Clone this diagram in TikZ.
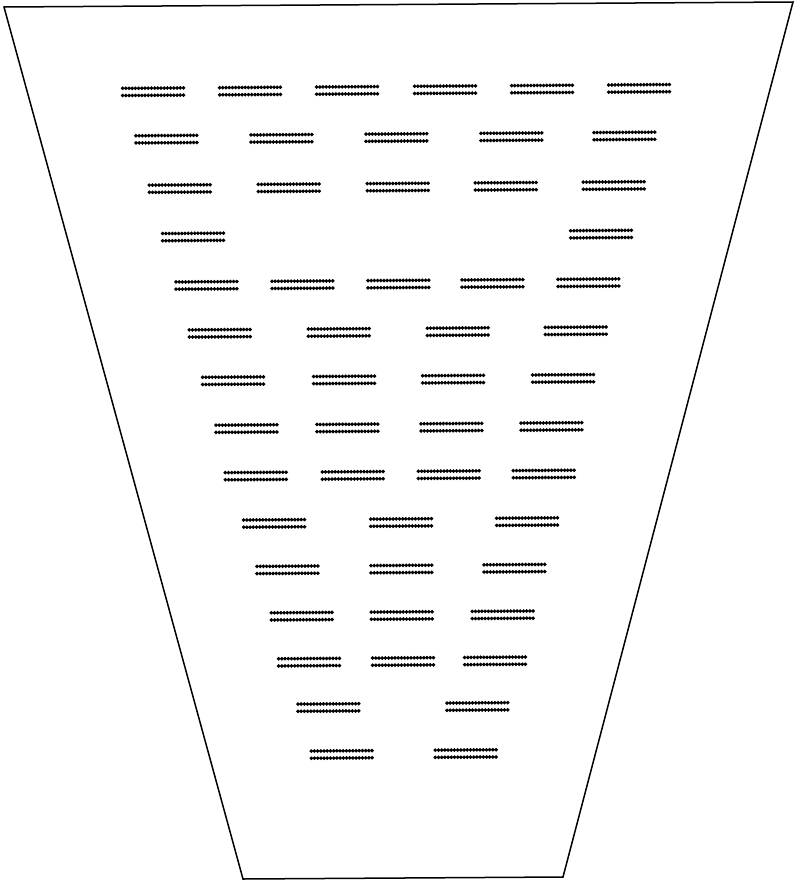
\documentclass[tikz,border=0pt]{standalone}
\usepackage{tikz}

\begin{document}
\begin{tikzpicture}[x=1pt, y=-1pt,
    rim/.style={line width=1.5pt, line join=miter},
    dotrow/.style={line width=3.8pt, line cap=round, dash pattern=on 0.2pt off 3pt}]
  \useasboundingbox (0,0) rectangle (794,881);
  % outline of the funnel
  \coordinate (tl) at (4,7);
  \coordinate (tr) at (793,2);
  \coordinate (br) at (563,877);
  \coordinate (bl) at (243,879);
  \draw[rim] (tl) -- (tr) -- (br) -- (bl) -- cycle;
  % rows of dot marks
  \begin{scope}[rotate around={0.4:(400,440)}]
    \foreach \y/\xs in {90/{157,254,351,449,546,643},
                        137.5/{170,285,400,515,628},
                        187/{183,292,401,509,617},
                        235.5/{196,604},
                        284/{209,305,401,495,591},
                        332/{222,341,460,578},
                        379.5/{235,346,455,565},
                        427.5/{248,349,453,553},
                        475/{257,354,450,545},
                        522.5/{275,402,528},
                        569/{288,402,515},
                        615.5/{302,402,503},
                        661.5/{309,403,495},
                        707/{328,477},
                        754/{341,465}}
      \foreach \x in \xs
        \draw[dotrow] (\x-32,\y-3.6) -- ++(64,0)
                      (\x-32,\y+3.6) -- ++(64,0);
  \end{scope}
\end{tikzpicture}
\end{document}
